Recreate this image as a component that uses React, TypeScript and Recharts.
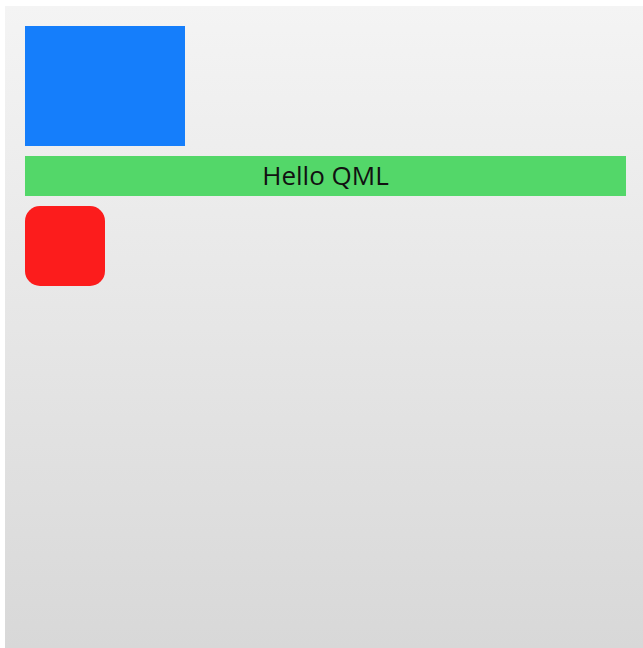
import React from "react";
import { ComposedChart, XAxis, YAxis, ReferenceArea, Label } from "recharts";

// Scene size (QML window contents)
const sceneWidth = 638;
const sceneHeight = 642;

// Items in the scene
const itemNames = ["blueRect", "greenBar", "redSquare"];
const itemLefts = [20, 20, 20];
const itemTops = [20, 150, 200];
const itemWidths = [160, 601, 80];
const itemHeights = [120, 40, 80];
const itemColors = ["#157efb", "#53d769", "#fc1c1c"];
const itemRadii = [0, 0, 15];
const itemLabels = ["", "Hello QML", ""];

const data = itemNames.map((name, i) => ({
  name,
  x1: itemLefts[i],
  x2: itemLefts[i] + itemWidths[i],
  y1: itemTops[i],
  y2: itemTops[i] + itemHeights[i],
  color: itemColors[i],
  radius: itemRadii[i],
  label: itemLabels[i],
}));

export default function App() {
  return (
    <div
      style={{
        position: "absolute",
        left: 5,
        top: 6,
        width: sceneWidth,
        height: sceneHeight,
        background: "linear-gradient(to bottom, #f4f4f4, #d8d8d8)",
      }}
    >
      <ComposedChart
        width={sceneWidth}
        height={sceneHeight}
        data={data}
        margin={{ top: 0, right: 0, bottom: 0, left: 0 }}
      >
        <XAxis type="number" dataKey="x1" domain={[0, sceneWidth]} hide allowDataOverflow />
        <YAxis type="number" domain={[0, sceneHeight]} reversed hide allowDataOverflow width={0} />
        {data.map((d) => (
          <ReferenceArea
            key={d.name}
            x1={d.x1}
            x2={d.x2}
            y1={d.y1}
            y2={d.y2}
            fill={d.color}
            fillOpacity={1}
            stroke="none"
            radius={d.radius}
            ifOverflow="visible"
          >
            {d.label ? (
              <Label
                value={d.label}
                position="center"
                fill="#111111"
                fontSize={26}
                fontFamily="'Open Sans', sans-serif"
              />
            ) : null}
          </ReferenceArea>
        ))}
      </ComposedChart>
    </div>
  );
}
